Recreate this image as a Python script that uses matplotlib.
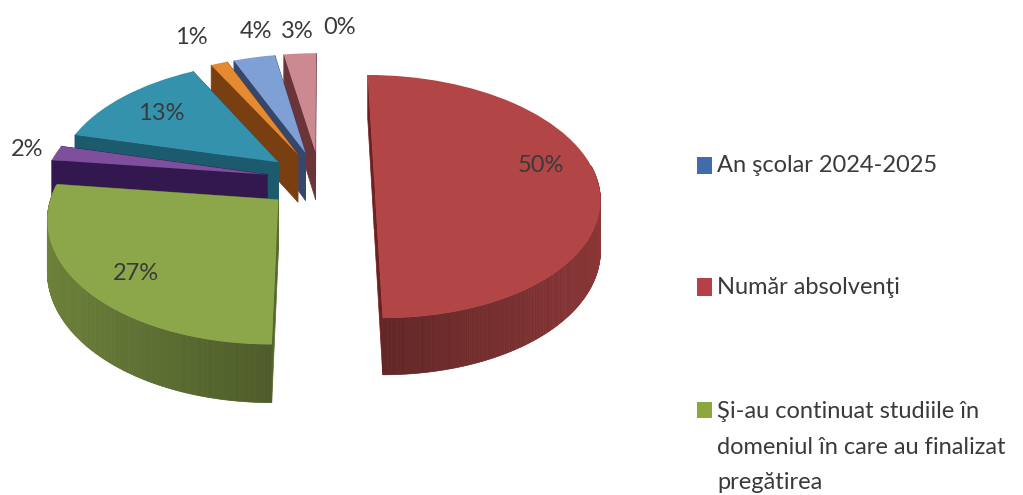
import numpy as np
import matplotlib
matplotlib.use("Agg")
import matplotlib.pyplot as plt
from matplotlib.collections import PolyCollection
from matplotlib.patches import Polygon, Rectangle
from matplotlib.transforms import Transform

plt.rcParams['font.family'] = ['Lato', 'DejaVu Sans']

# slices, clockwise from the top of the pie
values = [0, 50, 27, 2, 13.4, 1.4, 3.5, 2.7]
pct_labels = ['0%', '50%', '27%', '2%', '13%', '1%', '4%', '3%']
top_colors = ['#4f81bd', '#b24545', '#8ca64a', '#7d4f9c', '#3592ad', '#e58a30', '#7fa0d4', '#cd8990']
cut_colors = ['#25406a', '#6f1f1f', '#55692c', '#33184f', '#1c5a6e', '#7a3f10', '#36476e', '#6b3438']
label_pos = [(340, 27), (541, 165), (136, 274), (27, 150), (161, 113), (191, 38), (256, 31), (297, 31)]

legend_labels = ['An şcolar 2024-2025', 'Număr absolvenţi',
                 'Şi-au continuat studiile în\ndomeniul în care au finalizat\npregătirea']
legend_colors = ['#3f6cab', '#b5404a', '#8aa83e']
legend_boxes = [(697, 157, 15, 17), (697, 278, 15, 18), (697, 402, 15, 16)]
legend_text_y = [166, 287, 447]

EXPLODE = 0.243
CX, CY = 320, 180
RX, RY = 223, 119.3
K = 0.136
THICK = 49


class Perspective(Transform):
    input_dims = 2
    output_dims = 2
    is_separable = False
    has_inverse = False

    def transform_non_affine(self, xy):
        xy = np.asarray(xy, dtype=float)
        s = 1 / (1 + K * xy[:, 1])
        return np.column_stack([CX + RX * xy[:, 0] * s, CY - RY * xy[:, 1] * s])


def drop(xy):
    # screen point moved to the underside of the disc, nearer points drop further
    s = 1 + K * (xy[:, 1] - CY) / RY
    return np.column_stack([xy[:, 0], xy[:, 1] + THICK * s])


def shade(color, f):
    return tuple(np.array(matplotlib.colors.to_rgb(color)) * f)


fig = plt.figure(figsize=(10.23, 4.95), dpi=100)
ax = fig.add_axes([0, 0, 1, 1])
persp = Perspective()

wedges, _ = ax.pie(values, explode=[EXPLODE] * len(values), colors=top_colors, startangle=90,
                   counterclock=False, radius=1, wedgeprops={'linewidth': 0})
ax.set_aspect('auto')
ax.set_xlim(0, 1023)
ax.set_ylim(495, 0)
ax.axis('off')

for i, w in enumerate(wedges):
    z = 10 * (len(wedges) - i)
    w.set_transform(persp + ax.transData)
    w.set_zorder(z + 3)
    if values[i] == 0:
        continue
    c = np.array(w.center)
    a1, a2 = np.radians(w.theta1), np.radians(w.theta2)
    ends = c + w.r * np.array([[np.cos(a1), np.sin(a1)], [np.cos(a2), np.sin(a2)]])

    # the two cut faces
    apex = persp.transform(c.reshape(1, 2))
    for end in ends:
        top = np.vstack([apex, persp.transform(end.reshape(1, 2))])
        face = np.vstack([top, drop(top)[::-1]])
        ax.add_patch(Polygon(face, closed=True, fc=cut_colors[i], ec=cut_colors[i], lw=0.5, zorder=z))

    # outer wall, one small quad per step of arc
    n = max(3, int(abs(w.theta2 - w.theta1) * 2))
    ang = np.linspace(a1, a2, n)
    rim = persp.transform(np.column_stack([c[0] + w.r * np.cos(ang), c[1] + w.r * np.sin(ang)]))
    low = drop(rim)
    quads, cols = [], []
    for j in range(n - 1):
        mid = (ang[j] + ang[j + 1]) / 2
        if np.sin(mid) > 0.12:
            continue
        quads.append([rim[j], rim[j + 1], low[j + 1], low[j]])
        cols.append(shade(top_colors[i], 0.55 + 0.24 * abs(np.cos(mid))))
    if quads:
        ax.add_collection(PolyCollection(quads, facecolors=cols, edgecolors=cols, linewidths=0.5, zorder=z + 1))

for txt, pos in zip(pct_labels, label_pos):
    ax.text(pos[0], pos[1], txt, fontsize=17, color='#3a3a3a', ha='center', va='center', zorder=100)

for box, col in zip(legend_boxes, legend_colors):
    ax.add_patch(Rectangle(box[:2], box[2], box[3], fc=col, ec='none', zorder=100))
for txt, y in zip(legend_labels, legend_text_y):
    ax.text(717, y, txt, fontsize=17, color='#3a3a3a', ha='left', va='center', linespacing=1.87, zorder=100)

fig.savefig("out.png", dpi=100)
